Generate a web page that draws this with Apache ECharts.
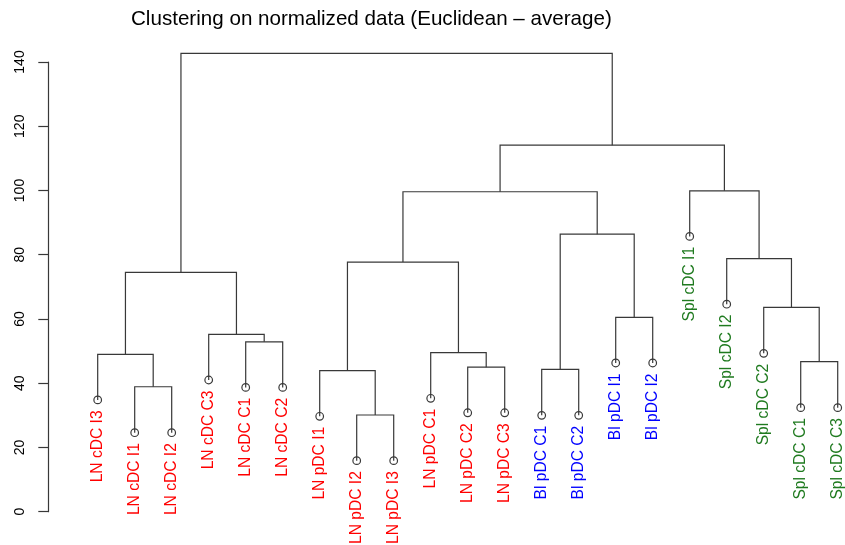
<!DOCTYPE html>
<html>
<head>
<meta charset="utf-8">
<script src="https://cdn.jsdelivr.net/npm/echarts@6/dist/echarts.min.js"></script>
<style>
html,body{margin:0;padding:0;background:#fff;}
#chart{width:845px;height:545px;}
</style>
</head>
<body>
<div id="chart"></div>
<script>
// ---- data ----
const titleText = 'Clustering on normalized data (Euclidean \u2013 average)';
const leafLabels = [
  'LN cDC I3','LN cDC I1','LN cDC I2','LN cDC C3','LN cDC C1','LN cDC C2',
  'LN pDC I1','LN pDC I2','LN pDC I3','LN pDC C1','LN pDC C2','LN pDC C3',
  'Bl pDC C1','Bl pDC C2','Bl pDC I1','Bl pDC I2',
  'Spl cDC I1','Spl cDC I2','Spl cDC C2','Spl cDC C1','Spl cDC C3'
];
const leafGroups = [
  'LN','LN','LN','LN','LN','LN','LN','LN','LN','LN','LN','LN',
  'Bl','Bl','Bl','Bl','Spl','Spl','Spl','Spl','Spl'
];
const leafHeights = [
  34.8, 24.6, 24.6, 41.0, 38.7, 38.7,
  29.7, 15.9, 15.9, 35.3, 30.8, 30.8,
  30.0, 30.0, 46.3, 46.3,
  85.7, 64.6, 49.3, 32.4, 32.4
];
// merge table (R hclust style): negative = leaf number, positive = earlier merge
const mergeLeft  = [-2, -5, -8, -11, -13, -15, -20, -1, -4, -7, -10,  8, 10,  5, -19, -18, -17, 13, 18, 12];
const mergeRight = [-3, -6, -9, -12, -14, -16, -21,  1,  2,  3,   4,  9, 11,  6,   7,  15,  16, 14, 17, 19];
const mergeHeights = [38.9, 52.9, 30.1, 45.0, 44.3, 60.5, 46.7, 49.0, 55.2, 43.9, 49.5,
                      74.5, 77.7, 86.4, 63.6, 78.8, 99.9, 99.6, 114.1, 142.7];
const yTicks = [0, 20, 40, 60, 80, 100, 120, 140];

// ---- styling ----
const groupColors = { LN: '#ff0000', Bl: '#0000ff', Spl: '#1f7a1f' };
const lineColor = '#383838';
const fontFamily = '"Liberation Sans", Arial, Helvetica, sans-serif';

// ---- layout of tree nodes (positions derived from the merge table) ----
const mergeX = [];
function nodeX(ref) { return ref < 0 ? (-ref) : mergeX[ref - 1]; }
function nodeY(ref) { return ref < 0 ? leafHeights[-ref - 1] : mergeHeights[ref - 1]; }
const segData = [];
for (let i = 0; i < mergeHeights.length; i++) {
  const lx = nodeX(mergeLeft[i]), rx = nodeX(mergeRight[i]);
  mergeX.push((lx + rx) / 2);
  segData.push([lx, rx, nodeY(mergeLeft[i]), nodeY(mergeRight[i]), mergeHeights[i]]);
}
const leafData = leafLabels.map((lab, i) => [i + 1, leafHeights[i], lab, leafGroups[i]]);

const chart = echarts.init(document.getElementById('chart'), null, { renderer: 'canvas' });
chart.setOption({
  backgroundColor: '#ffffff',
  animation: false,
  graphic: [{
    type: 'text', x: 371.4, y: 19,
    style: { text: titleText, fill: '#000', font: '20.6px ' + fontFamily, align: 'center', verticalAlign: 'middle' }
  }],
  grid: { left: 48.3, top: 62, right: 0, height: 449.7, containLabel: false, outerBoundsMode: 'none' },
  xAxis: { type: 'value', min: -0.335, max: 21.197, show: false },
  yAxis: {
    type: 'value', min: yTicks[0], max: yTicks[yTicks.length - 1], interval: 20,
    axisLine: { show: true, onZero: false, lineStyle: { color: lineColor, width: 1.2 } },
    axisTick: { show: true, length: 10, lineStyle: { color: lineColor, width: 1.2 } },
    axisLabel: { rotate: 90, margin: 21, fontSize: 14, color: '#000', fontFamily: fontFamily },
    splitLine: { show: false }
  },
  series: [
    {
      type: 'custom',
      clip: false,
      data: segData,
      renderItem: function (params, api) {
        const p1 = api.coord([api.value(0), api.value(2)]);
        const p2 = api.coord([api.value(0), api.value(4)]);
        const p3 = api.coord([api.value(1), api.value(4)]);
        const p4 = api.coord([api.value(1), api.value(3)]);
        return {
          type: 'polyline',
          shape: { points: [p1, p2, p3, p4] },
          style: { stroke: lineColor, lineWidth: 1.2, fill: null }
        };
      }
    },
    {
      type: 'custom',
      clip: false,
      data: leafData,
      renderItem: function (params, api) {
        const d = leafData[params.dataIndex];
        const p = api.coord([d[0], d[1]]);
        return {
          type: 'group',
          children: [
            { type: 'circle', shape: { cx: p[0], cy: p[1], r: 3.8 },
              style: { stroke: lineColor, lineWidth: 1.2, fill: 'none' } },
            { type: 'text', x: p[0], y: p[1] + 10.5, rotation: Math.PI / 2,
              style: { text: d[2], x: 0, y: 0, fill: groupColors[d[3]],
                       font: '15.6px ' + fontFamily, align: 'right', verticalAlign: 'middle' } }
          ]
        };
      }
    }
  ]
});
</script>
</body>
</html>
